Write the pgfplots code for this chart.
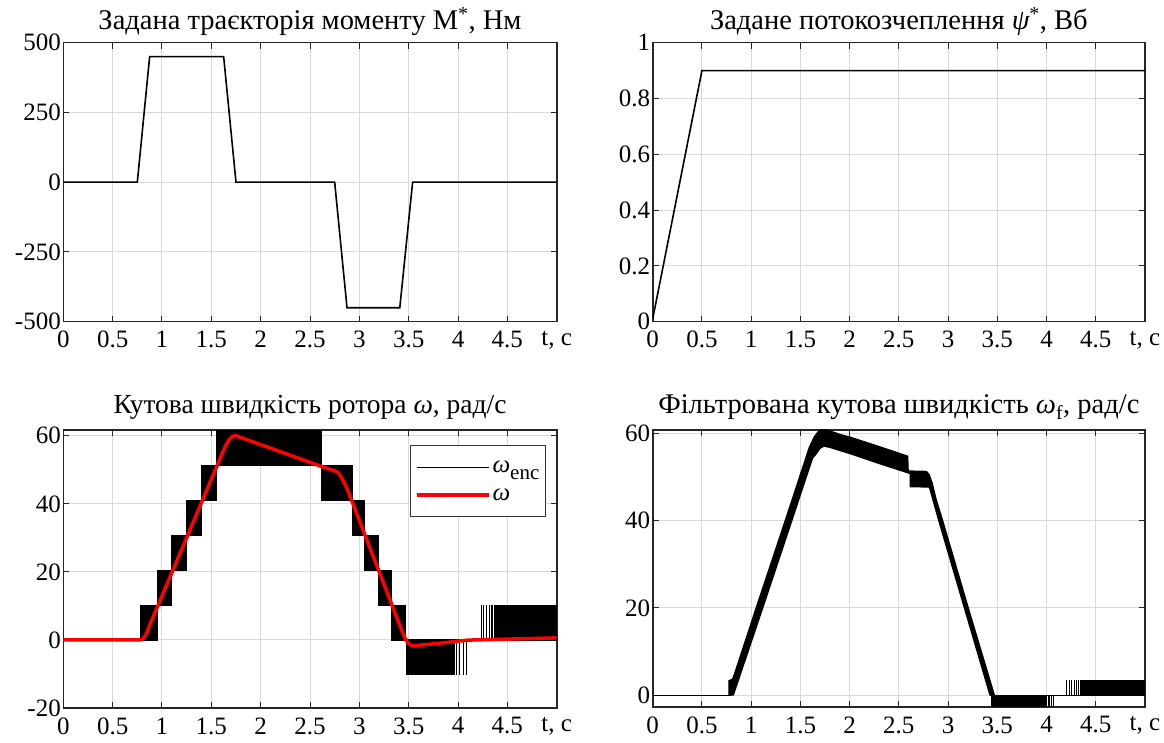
\documentclass[border=0pt]{standalone}
\usepackage{pgfplots}
\pgfplotsset{compat=1.18}
\usepackage{fontspec}
\setmainfont{Liberation Serif}
\newcommand\fs{\fontsize{25bp}{30bp}\selectfont}
\newcommand\ft{\fontsize{28.5bp}{32bp}\selectfont}
\newcommand\ftb{\fontsize{27.5bp}{32bp}\selectfont}
\newcommand\fss{\fontsize{21bp}{24bp}\selectfont}
\pgfplotsset{
  base/.style={
    scale only axis, anchor=south west,
    xmin=0, xmax=5,
    xtick={0,0.5,1,1.5,2,2.5,3,3.5,4,4.5,5},
    xticklabels={0,0.5,1,1.5,2,2.5,3,3.5,4,4.5,{t, c}},
    grid=major,
    major grid style={black!15, line width=1bp},
    axis line style={black!85, line width=1.6bp},
    tick style={black!85, line width=1bp},
    tick align=inside,
    major tick length=6bp,
    tick label style={font=\fs},
    xticklabel style={yshift=-6bp},
    yticklabel style={xshift=1bp},
    title style={font=\ft, at={(0.5,1)}, anchor=base, yshift=7.5bp},
  }
}
\begin{document}
\begin{tikzpicture}
\useasboundingbox (0,0) rectangle (1164bp,743bp);
% ---------------- top left
\begin{axis}[base, at={(63.3bp,421.3bp)}, width=493.4bp, height=279bp,
  ymin=-500, ymax=500, ytick={-500,-250,0,250,500}, yticklabels={-500,-250,0,250,500},
  title={Задана траєкторія моменту M\textsuperscript{*}, Нм}]
\addplot[black, line width=1.6bp] coordinates {(0,0)(0.75,0)(0.875,450)(1.625,450)(1.75,0)(2.75,0)(2.875,-450)(3.41,-450)(3.54,0)(5,0)};
\end{axis}
% ---------------- top right
\begin{axis}[base, at={(652.7bp,421.3bp)}, width=492.3bp, height=279bp,
  ymin=0, ymax=1, ytick={0,0.2,0.4,0.6,0.8,1}, yticklabels={0,0.2,0.4,0.6,0.8,1},
  title={Задане потокозчеплення {\itshape ψ}\textsuperscript{*}, Вб}]
\addplot[black, line width=1.6bp] coordinates {(0,0.01)(0.5,0.9)(5,0.9)};
\end{axis}
% ---------------- bottom left
\begin{axis}[base, at={(63.3bp,35bp)}, width=493.4bp, height=278bp,
  ymin=-20, ymax=61.7, ytick={-20,0,20,40,60}, yticklabels={-20,0,20,40,60},
  title style={font=\ftb, yshift=3bp},
  title={Кутова швидкість ротора {\itshape ω}, рад/с},
  legend image code/.code={\draw[#1] (0bp,0bp) -- (72bp,0bp);},
  legend cell align=left,
  legend style={at={(0.978,0.946)}, anchor=north east, draw=black!80, line width=1bp,
    font=\fs, inner xsep=4bp, inner ysep=13bp, row sep=11bp},
]
\addlegendimage{black, line width=1.2bp}
\addlegendentry{{\itshape ω}\raisebox{-0.6ex}{\fss enc}}
\addlegendimage{red, line width=4bp}
\addlegendentry{{\itshape ω}}
% zero segments of encoder speed
\addplot[black, line width=1bp, forget plot] coordinates {(0,0)(0.78,0)};
\addplot[black, line width=1bp, forget plot] coordinates {(3.47,0)(5,0)};
% staircase of the quantised encoder speed (toggling between levels)
\addplot[black, fill=black, line width=0.8bp, forget plot] coordinates {
(0.78,0)(0.78,10.25)(0.955,10.25)(0.955,20.5)(1.10,20.5)(1.10,30.75)(1.245,30.75)(1.245,41)
(1.397,41)(1.397,51.25)(1.549,51.25)(1.549,61.5)(2.615,61.5)(2.615,51.25)(2.93,51.25)(2.93,41)
(3.055,41)(3.055,30.75)(3.19,30.75)(3.19,20.5)(3.325,20.5)(3.325,10.25)(3.47,10.25)(3.47,0)
(3.325,0)(3.325,10.25)(3.19,10.25)(3.19,20.5)(3.055,20.5)(3.055,30.75)(2.93,30.75)(2.93,41)
(2.615,41)(2.615,51.25)(1.549,51.25)(1.549,41)(1.397,41)(1.397,30.75)(1.245,30.75)(1.245,20.5)
(1.10,20.5)(1.10,10.25)(0.955,10.25)(0.955,0)(0.78,0)} -- cycle;
\addplot[black, fill=black, line width=0.8bp, forget plot] coordinates {
(3.478,0)(3.95,0)(3.95,-10.25)(3.478,-10.25)} -- cycle;
\addplot[black, fill=black, line width=0.8bp, forget plot] coordinates {
(4.37,0)(5,0)(5,10.25)(4.37,10.25)} -- cycle;
\addplot[ycomb, black, line width=1bp, mark=none, forget plot] coordinates {
(3.965,-10.25)(3.98,-10.25)(4.01,-10.25)(4.02,-10.25)(4.06,-10.25)(4.09,-10.25)};
\addplot[ycomb, black, line width=1bp, mark=none, forget plot] coordinates {
(4.24,10.25)(4.255,10.25)(4.29,10.25)(4.32,10.25)(4.335,10.25)(4.35,10.25)};
% true rotor speed
\addplot[red, line width=3.5bp, forget plot] coordinates {
(0,0)(0.78,0)(0.80,0.2)(0.82,0.8)(0.84,1.7)(0.86,3.0)(0.88,4.6)
(1.62,55.4)(1.65,57.3)(1.68,58.8)(1.71,59.7)(1.74,60.0)(1.76,59.9)
(2.615,51)(2.75,49.7)(2.78,49.3)(2.81,48.2)(2.84,46.6)(2.88,44.2)
(3.41,4.3)(3.44,2.1)(3.47,0.1)(3.50,-1.1)(3.53,-1.6)(3.56,-1.7)
(3.8,-1.0)(4.1,-0.05)(4.24,0.05)(5,0.6)};
\end{axis}
% ---------------- bottom right
\begin{axis}[base, at={(652.7bp,36bp)}, width=492.3bp, height=277bp,
  ymin=-2.75, ymax=60.8, ytick={0,20,40,60}, yticklabels={0,20,40,60},
  title style={yshift=3bp},
  title={Фільтрована кутова швидкість {\itshape ω}\textsubscript{f}, рад/с}]
\addplot[black, line width=1bp] coordinates {(0,0)(0.80,0)};
\addplot[black, line width=1bp] coordinates {(3.43,0)(5,0)};
\addplot[black, fill=black, line width=1.2bp] coordinates {
(0.774,0)(0.774,3.3)(0.81,3.6)(0.83,4.8)(1.055,20.3)(1.35,40.3)(1.59,56.8)(1.64,59.2)(1.68,60.4)
(1.72,61)(1.76,60.9)(1.90,59.8)(2.0,59.2)(2.30,57.0)(2.59,54.8)(2.595,51.4)(2.78,51.3)
(2.81,50.5)(2.84,48.5)(2.875,45.2)(2.945,40)(3.205,20)(3.47,0)
(3.425,0)(3.165,20)(2.905,40)(2.81,47.7)(2.615,47.8)(2.615,50.8)(2.30,53.1)(2.0,55.4)(1.80,56.8)
(1.74,57.1)(1.70,56.6)(1.66,55.3)(1.625,54.4)(1.41,39.8)(1.115,19.8)(0.845,1.7)(0.82,0)} -- cycle;
\addplot[black, fill=black, line width=0.8bp] coordinates {
(3.44,0)(4.0,0)(4.0,-3.1)(3.44,-3.1)} -- cycle;
\addplot[black, fill=black, line width=0.8bp] coordinates {
(4.34,0)(5,0)(5,3.4)(4.34,3.4)} -- cycle;
\addplot[ycomb, black, line width=1bp, mark=none] coordinates {
(4.015,-3.1)(4.03,-3.1)(4.05,-3.1)(4.07,-3.1)};
\addplot[ycomb, black, line width=1bp, mark=none] coordinates {
(4.206,3.4)(4.23,3.4)(4.25,3.4)(4.28,3.4)(4.30,3.4)(4.32,3.4)};
\end{axis}
\end{tikzpicture}
\end{document}
